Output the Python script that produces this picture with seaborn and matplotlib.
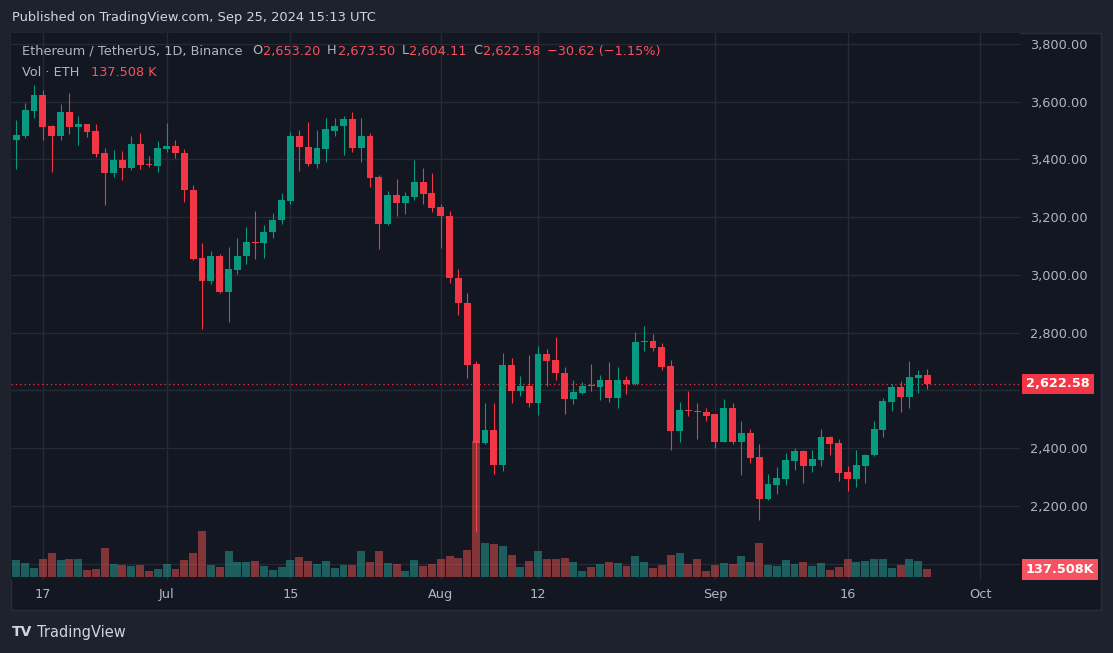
import numpy as np
import pandas as pd
import matplotlib
matplotlib.use("Agg")
import matplotlib.pyplot as plt
import matplotlib.transforms as mtransforms
from matplotlib.patches import Rectangle
import seaborn as sns

# ETH/USDT daily candles, Binance, Jun 14 - Sep 25 2024
start_date = "2024-06-14"
opens = [3468, 3482, 3568, 3625, 3515, 3482, 3563, 3513, 3522, 3498, 3422, 3354, 3398, 3371, 3453, 3384, 3378,
         3437, 3446, 3424, 3296, 3060, 2980, 3067, 2940, 3019, 3067, 3113, 3111, 3148, 3190, 3256, 3483, 3445,
         3386, 3437, 3500, 3515, 3539, 3439, 3483, 3338, 3176, 3276, 3250, 3269, 3321, 3283,
         3235, 3204, 2990, 2903, 2691, 2419, 2464, 2343, 2687, 2598, 2614, 2556, 2726, 2705, 2662, 2570, 2593,
         2617, 2612, 2638, 2573, 2635, 2623, 2767, 2771, 2750, 2684, 2458, 2532, 2530, 2527,
         2517, 2423, 2541, 2423, 2454, 2371, 2225, 2273, 2294, 2357, 2390, 2338, 2359, 2439, 2418, 2317, 2293,
         2338, 2376, 2463, 2560, 2612, 2577, 2643, 2653.20]
highs = [3536, 3594, 3657, 3639, 3518, 3591, 3629, 3549, 3522, 3522, 3439, 3432, 3429, 3481, 3491, 3412, 3463,
         3525, 3467, 3435, 3313, 3112, 3084, 3074, 3098, 3127, 3165, 3220, 3172, 3214, 3283, 3495, 3501, 3529,
         3502, 3542, 3542, 3549, 3563, 3542, 3491, 3345, 3290, 3332, 3287, 3397, 3370, 3352,
         3245, 3221, 3021, 2938, 2701, 2558, 2555, 2729, 2712, 2649, 2722, 2753, 2743, 2785, 2680, 2635, 2631,
         2691, 2652, 2698, 2683, 2650, 2802, 2823, 2795, 2764, 2705, 2559, 2597, 2555, 2538,
         2520, 2569, 2555, 2493, 2468, 2413, 2312, 2336, 2385, 2402, 2393, 2394, 2466, 2442, 2432, 2338, 2394,
         2379, 2494, 2573, 2622, 2632, 2701, 2670, 2673.50]
lows = [3368, 3475, 3544, 3468, 3358, 3468, 3489, 3451, 3477, 3409, 3244, 3340, 3330, 3364, 3368, 3375, 3358,
        3427, 3405, 3252, 3053, 2812, 2969, 2936, 2836, 3005, 3037, 3057, 3058, 3127, 3176, 3245, 3360, 3376,
        3369, 3391, 3480, 3415, 3425, 3390, 3304, 3090, 3172, 3205, 3212, 3259, 3246, 3217,
        3094, 2972, 2861, 2645, 2111, 2415, 2312, 2322, 2556, 2580, 2542, 2514, 2615, 2635, 2517, 2552, 2589,
        2598, 2566, 2559, 2538, 2588, 2620, 2736, 2736, 2670, 2395, 2420, 2510, 2433, 2496,
        2402, 2420, 2413, 2308, 2350, 2152, 2221, 2242, 2273, 2323, 2279, 2318, 2338, 2376, 2286, 2252, 2266,
        2279, 2373, 2439, 2529, 2525, 2539, 2591, 2604.11]
closes = [3484, 3570, 3625, 3513, 3482, 3563, 3513, 3522, 3495, 3420, 3354, 3398, 3371, 3453, 3382, 3380, 3439,
          3446, 3423, 3294, 3057, 2980, 3067, 2940, 3022, 3067, 3113, 3111, 3148, 3190, 3259, 3483, 3442, 3386,
          3439, 3504, 3517, 3539, 3439, 3483, 3335, 3176, 3276, 3250, 3273, 3321, 3281, 3231,
          3204, 2990, 2903, 2690, 2419, 2464, 2343, 2687, 2598, 2614, 2556, 2726, 2703, 2659, 2570, 2596, 2617,
          2615, 2638, 2573, 2635, 2623, 2767, 2772, 2747, 2681, 2458, 2531, 2528, 2527, 2513,
          2423, 2541, 2423, 2454, 2367, 2225, 2277, 2298, 2361, 2390, 2338, 2362, 2439, 2414, 2314, 2293, 2342,
          2376, 2466, 2563, 2612, 2577, 2646, 2653.20, 2622.58]
volumes_k = [292, 241, 155, 309, 413, 292, 309, 309, 120, 138, 499, 223, 206, 189, 206, 103, 138,
             223, 138, 292, 413, 791, 206, 172, 447, 258, 258, 275, 189, 120, 172, 292, 344, 275, 223, 275,
             155, 206, 206, 447, 258, 447, 241, 223, 103, 292, 189, 223,
             309, 361, 327, 464, 2345, 584, 567, 533, 378, 172, 275, 447, 309, 309, 327, 258, 103, 172, 223,
             258, 241, 189, 361, 258, 155, 206, 378, 413, 223, 309, 103,
             206, 241, 223, 361, 258, 584, 206, 189, 292, 223, 258, 189, 241, 120, 172, 309, 258, 275, 309,
             309, 155, 206, 309, 275, 137.508]

tick_dates = ["2024-06-17", "2024-07-01", "2024-07-15", "2024-08-01",
              "2024-08-12", "2024-09-01", "2024-09-16", "2024-10-01"]
tick_labels = ["17", "Jul", "15", "Aug", "12", "Sep", "16", "Oct"]
grid_prices = [2000, 2200, 2400, 2600, 2800, 3000, 3200, 3400, 3600, 3800]
hidden_prices = [2000, 2600]  # covered by the last-value boxes

W, H = 1113, 653
BG = "#1e222d"
PANEL = "#131722"
GRID = "#262a35"
TEXT = "#b2b5be"
LIGHT = "#d1d4dc"
UP = "#089981"
DOWN = "#f23645"
DOWN_LT = "#f7525f"
VOL_UP = "#26a69a"
VOL_DOWN = "#ef5350"


def fx(px):
    return px / W


def fy(py):
    return 1 - py / H


df = pd.DataFrame({"open": opens, "high": highs, "low": lows, "close": closes, "volume": volumes_k})
df["date"] = pd.date_range(start_date, periods=len(df), freq="D")
df["day"] = np.arange(len(df))
df["dir"] = np.where(df["close"] >= df["open"], "up", "down")
t0 = pd.Timestamp(start_date)
tick_days = [(pd.Timestamp(d) - t0).days for d in tick_dates]

sns.set_theme(style="dark", rc={"axes.facecolor": PANEL, "figure.facecolor": BG})
plt.rcParams["font.family"] = ["DejaVu Sans"]

fig = plt.figure(figsize=(W / 100, H / 100), dpi=100, facecolor=BG)
fig.patches.append(Rectangle((fx(11), fy(610)), fx(1101) - fx(11), fy(33) - fy(610),
                             transform=fig.transFigure, facecolor=PANEL, edgecolor="#2a2e39",
                             lw=1, zorder=-5))

ax = fig.add_axes([fx(11), fy(580), fx(1020) - fx(11), fy(33) - fy(580)])
ax.set_facecolor(PANEL)
for s in ax.spines.values():
    s.set_visible(False)

# candles
colors = np.where(df["dir"] == "up", UP, DOWN)
ax.vlines(df["day"], df["low"], df["high"], colors=colors, lw=0.8, zorder=3)
body = np.maximum((df["close"] - df["open"]).abs(), 3.0)
ax.bar(df["day"], body, bottom=np.minimum(df["open"], df["close"]), width=0.78,
       color=colors, lw=0, zorder=4)

ax.axhline(closes[-1], color=DOWN, lw=0.9, ls=(0, (1, 2.5)), zorder=2)

# volume pane on a twin axis
axv = ax.twinx()
for s in axv.spines.values():
    s.set_visible(False)
sns.barplot(data=df, x="day", y="volume", hue="dir", palette={"up": VOL_UP, "down": VOL_DOWN},
            native_scale=True, width=0.9, alpha=0.5, saturation=1, errorbar=None,
            legend=False, dodge=False, linewidth=0, ax=axv)
axv.set_ylim(-51.6, 9351)
axv.set_yticks([])
axv.set_ylabel("")
axv.set_xlabel("")
axv.grid(False)

ax.set_xlim(-0.6, 113.5)
ax.set_ylim(1943.7, 3838.1)
ax.set_xticks(tick_days, tick_labels)
ax.set_yticks(grid_prices, ["" if p in hidden_prices else f"{p:,.2f}" for p in grid_prices])
ax.yaxis.tick_right()
ax.tick_params(axis="y", length=0, pad=7.5, labelcolor=TEXT, labelsize=9.3)
ax.tick_params(axis="x", length=0, pad=6, labelcolor=TEXT, labelsize=9.3)
ax.grid(True, color=GRID, lw=1)
ax.set_axisbelow(True)
ax.set_xlabel("")
ax.set_ylabel("")

# last-value boxes on the price scale
tp = mtransforms.blended_transform_factory(fig.transFigure, ax.transData)
fig.text(fx(1026), closes[-1], f"{closes[-1]:,.2f}", transform=tp, ha="left", va="center",
         color="white", fontsize=9.3, fontweight="bold",
         bbox=dict(boxstyle="square,pad=0.3", fc=DOWN, ec="none"))
tv = mtransforms.blended_transform_factory(fig.transFigure, axv.transData)
fig.text(fx(1026), volumes_k[-1] - 12, f"{volumes_k[-1]:.3f}K", transform=tv, ha="left", va="center",
         color="white", fontsize=9.3, fontweight="bold",
         bbox=dict(boxstyle="square,pad=0.3", fc=DOWN_LT, ec="none"))

# header
fig.text(fx(12), fy(18), "Published on TradingView.com, Sep 25, 2024 15:13 UTC",
         color=LIGHT, fontsize=9.4, va="center", ha="left")
o, h, l, c = opens[-1], highs[-1], lows[-1], closes[-1]
chg = c - o
pct = chg / o * 100
pieces = [("Ethereum / TetherUS, 1D, Binance", 22, TEXT),
          ("O", 252, TEXT), (f"{o:,.2f}", 263, DOWN_LT),
          ("H", 327, TEXT), (f"{h:,.2f}", 338, DOWN_LT),
          ("L", 402, TEXT), (f"{l:,.2f}", 409, DOWN_LT),
          ("C", 473, TEXT), (f"{c:,.2f}", 483, DOWN_LT),
          (f"{chg:+.2f} ({pct:+.2f}%)".replace("-", "\u2212"), 547, DOWN_LT)]
for s, x, col in pieces:
    fig.text(fx(x), fy(51), s, color=col, fontsize=9.3, va="center", ha="left")
fig.text(fx(22), fy(72), "Vol \u00b7 ETH", color=TEXT, fontsize=9.3, va="center", ha="left")
fig.text(fx(91), fy(72), f"{volumes_k[-1]:.3f} K", color=DOWN_LT, fontsize=9.3, va="center", ha="left")

# footer logo
fig.text(fx(12), fy(632), "TV", color=LIGHT, fontsize=10, fontweight="heavy", va="center", ha="left")
fig.text(fx(37), fy(632), "TradingView", color=LIGHT, fontsize=10.5, va="center", ha="left")

fig.savefig("out.png", dpi=100, facecolor=BG)
